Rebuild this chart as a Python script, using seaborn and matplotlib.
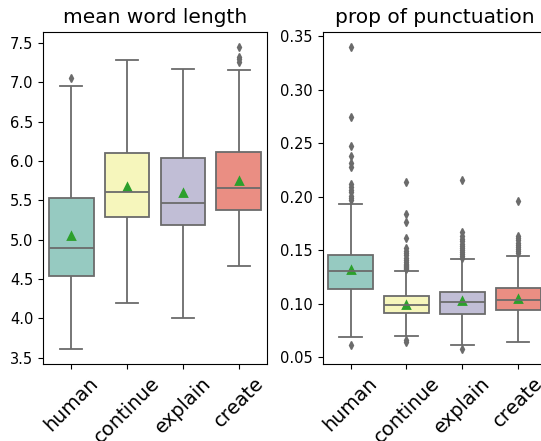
import numpy as np
import pandas as pd
import matplotlib
matplotlib.use("Agg")
import matplotlib.pyplot as plt
import seaborn as sns

models = ["human", "continue", "explain", "create"]

# mean word length: box summary
wl_low = [3.61, 4.19, 4.00, 4.66]
wl_q1 = [4.54, 5.29, 5.18, 5.37]
wl_med = [4.89, 5.60, 5.47, 5.66]
wl_q3 = [5.53, 6.10, 6.04, 6.11]
wl_high = [6.95, 7.28, 7.17, 7.16]
wl_mean = [5.04, 5.67, 5.59, 5.74]
wl_out = [[7.05], [], [], [7.26, 7.29, 7.32, 7.45]]

# prop of punctuation
pp_low = [0.069, 0.0694, 0.0611, 0.0644]
pp_q1 = [0.114, 0.0909, 0.0905, 0.0935]
pp_med = [0.130, 0.099, 0.1013, 0.1033]
pp_q3 = [0.1456, 0.1068, 0.1112, 0.1144]
pp_high = [0.1928, 0.1300, 0.1419, 0.1444]
pp_mean = [0.131, 0.0985, 0.1022, 0.1047]
pp_out = [
    [0.0617, 0.197, 0.199, 0.201, 0.204, 0.206, 0.209, 0.212,
     0.228, 0.231, 0.238, 0.247, 0.274, 0.340],
    [0.0640, 0.0656, 0.132, 0.133, 0.134, 0.135, 0.136, 0.137, 0.139,
     0.141, 0.143, 0.145, 0.147, 0.149, 0.152, 0.161, 0.176, 0.184, 0.2135],
    [0.0576, 0.143, 0.144, 0.146, 0.148, 0.150, 0.152, 0.154, 0.156,
     0.158, 0.160, 0.163, 0.167, 0.2158],
    [0.147, 0.149, 0.151, 0.153, 0.155, 0.157, 0.159, 0.161, 0.163, 0.1956],
]


def box_frame(low, q1, med, q3, high, out, reps=100):
    # rebuild a sample whose quartiles / whiskers / fliers match the summary
    rows = []
    for i, m in enumerate(models):
        vals = [low[i]] + [q1[i]] * reps + [med[i]] * reps + [q3[i]] * reps + [high[i]] + out[i]
        rows += [(m, v) for v in vals]
    return pd.DataFrame(rows, columns=["model", "value"])


panels = [
    ("mean word length", box_frame(wl_low, wl_q1, wl_med, wl_q3, wl_high, wl_out), wl_mean),
    ("prop of punctuation", box_frame(pp_low, pp_q1, pp_med, pp_q3, pp_high, pp_out), pp_mean),
]

fig = plt.figure(figsize=(5.41, 4.41), dpi=100)
axes = [fig.add_axes([0.080, 0.1746, 0.413, 0.7535]),
        fig.add_axes([0.5965, 0.1746, 0.413, 0.7535])]

gray = "0.42"
for ax, (title, df, means) in zip(axes, panels):
    sns.boxplot(data=df, x="model", y="value", hue="model", order=models,
                hue_order=models, palette="Set3", legend=False, ax=ax,
                linecolor=gray, linewidth=1.3,
                flierprops=dict(marker="d", markersize=4, markerfacecolor=gray,
                                markeredgecolor=gray))
    sns.pointplot(x=models, y=means, order=models, color="#2ca02c",
                  marker="^", linestyle="none", markersize=4, errorbar=None, ax=ax)
    ax.set_title(title, fontsize=14.5)
    ax.set_xlabel("")
    ax.set_ylabel("")
    ax.tick_params(axis="x", labelsize=14, labelrotation=45)
    ax.tick_params(axis="y", labelsize=10.5)

fig.savefig("out.png", dpi=100)
